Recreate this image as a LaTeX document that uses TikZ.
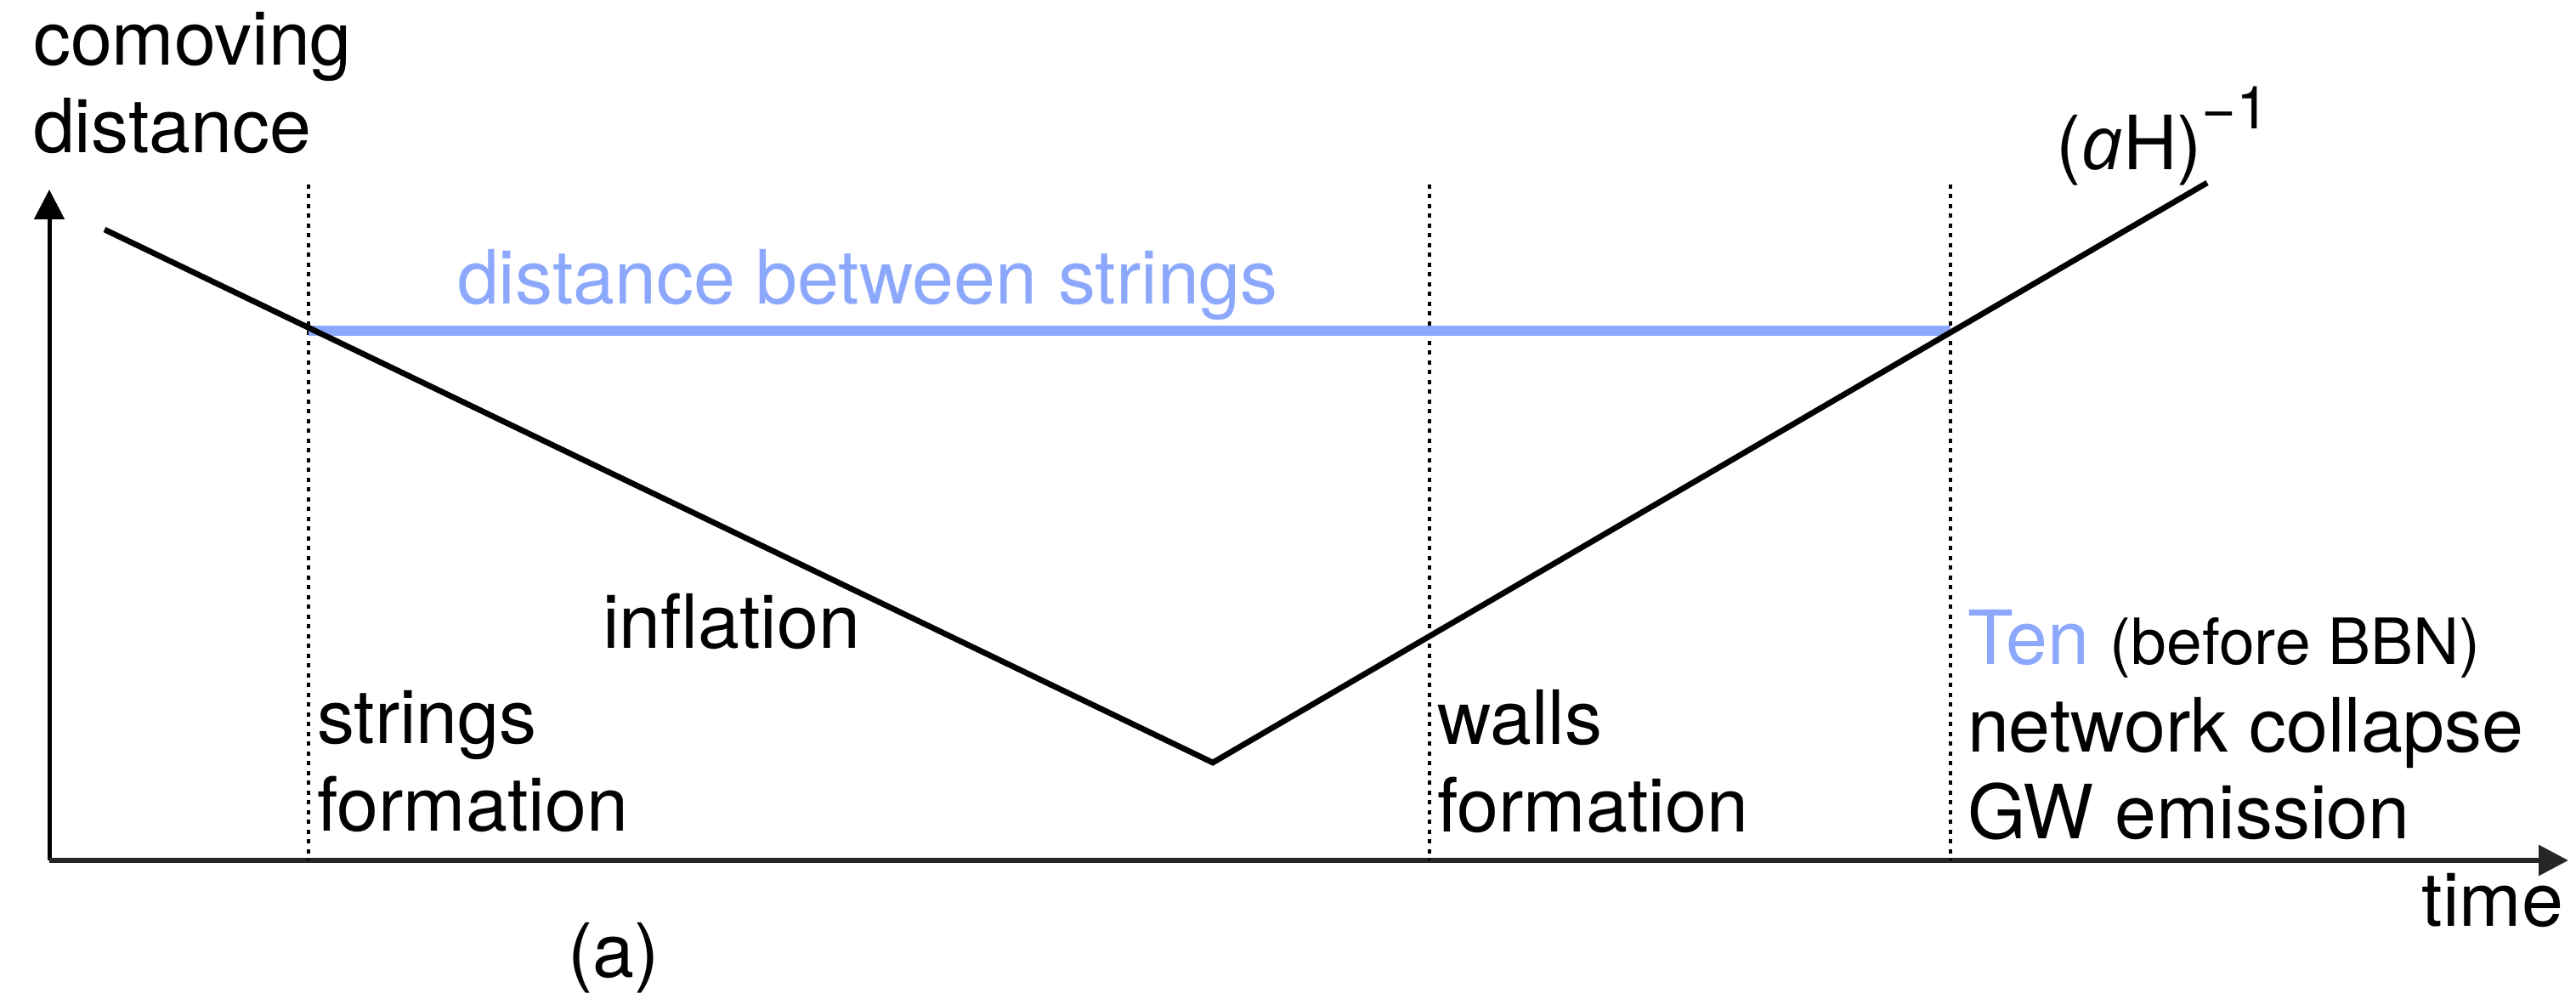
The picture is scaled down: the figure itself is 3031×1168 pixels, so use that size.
\documentclass[tikz,border=0pt]{standalone}
\usepackage{fontspec}
\setmainfont{TeX Gyre Heros}
\newfontfamily\afont{Open Sans}
\usetikzlibrary{arrows.meta}
\definecolor{sblue}{RGB}{140,168,252}
\tikzset{
  lbl/.style={font=\fontsize{17.6}{20.6}\selectfont, inner sep=0pt, anchor=base west},
  axisline/.style={line width=1.3pt, -{Triangle[length=7pt,width=7pt]}},
  curve/.style={line width=1.35pt, line join=miter},
  epoch/.style={line width=0.8pt, dash pattern=on 1pt off 1.3pt},
  strdist/.style={line width=2.4pt, sblue}
}
\begin{document}
\begin{tikzpicture}[x=0.2pt,y=-0.2pt]
\useasboundingbox (0,0) rectangle (3031,1168);
% axes
\coordinate (O) at (58,1012);
\coordinate (ytip) at (58,223);
\coordinate (xtip) at (3022,1012);
\draw[axisline, line width=1pt] (O) -- (ytip);
\draw[axisline, black!85] (O) -- (xtip);
% epoch lines
\coordinate (e1t) at (363,217); \coordinate (e1b) at (363,1012);
\coordinate (e2t) at (1682,217); \coordinate (e2b) at (1682,1012);
\coordinate (e3t) at (2295,217); \coordinate (e3b) at (2295,1012);
\draw[epoch] (e1t) -- (e1b);
\draw[epoch] (e2t) -- (e2b);
\draw[epoch] (e3t) -- (e3b);
% distance between strings
\coordinate (s1) at (363,389); \coordinate (s2) at (2295,389);
\draw[strdist] (s1) -- (s2);
% comoving Hubble radius
\coordinate (h0) at (123,270);
\coordinate (hmin) at (1427,897);
\coordinate (h1) at (2597,215);
\draw[curve] (h0) -- (hmin) -- (h1);
% labels
\node[lbl] (ylab1) at (38,77) {comoving};
\node[lbl] (ylab2) at (38,180) {distance};
\node[lbl, text=sblue] (dist) at (537,358) {distance between strings};
\node[lbl] (hub) at (2418,200) {({\afont\itshape a}H)\raisebox{9.6pt}{\fontsize{14}{16}\selectfont −1}};
\node[lbl] (infl) at (708,763) {inflation};
\node[lbl] (sf1) at (372,875) {strings};
\node[lbl] (sf2) at (372,978) {formation};
\node[lbl] (wf1) at (1690,876) {walls};
\node[lbl] (wf2) at (1690,979) {formation};
\node[lbl] (ten) at (2314,782) {\textcolor{sblue}{Ten} {\fontsize{15}{17}\selectfont (before BBN)}};
\node[lbl] (nc) at (2314,885) {network collapse};
\node[lbl] (gw) at (2314,987) {GW emission};
\node[lbl, anchor=base east] (time) at (3017,1090) {time};
\node[lbl, anchor=base] (cap) at (722,1150) {(a)};
\end{tikzpicture}
\end{document}
